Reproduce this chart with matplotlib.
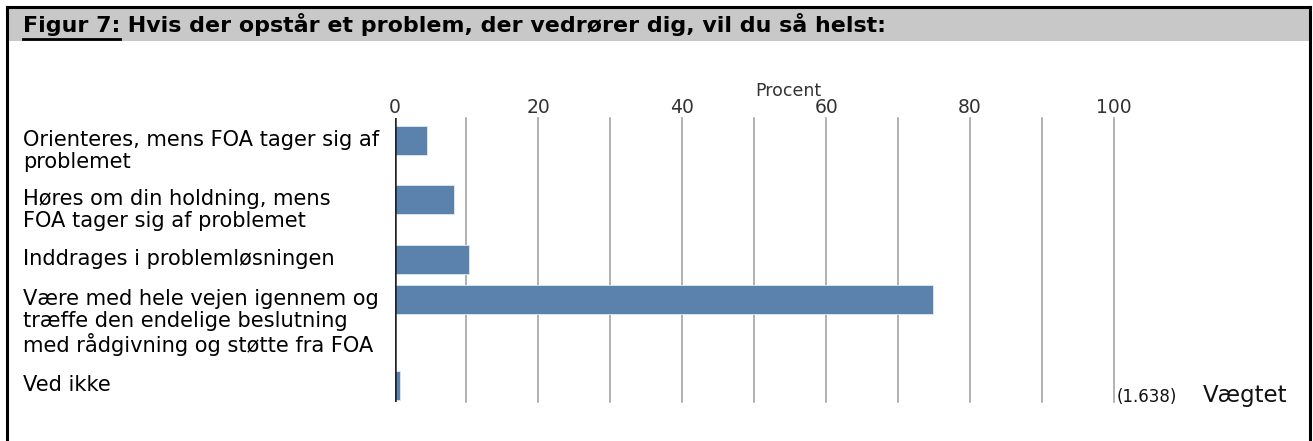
import matplotlib.pyplot as plt
from matplotlib.lines import Line2D
from matplotlib.patches import Rectangle

# data
categories = [
    "Orienteres, mens FOA tager sig af\nproblemet",
    "Høres om din holdning, mens\nFOA tager sig af problemet",
    "Inddrages i problemløsningen",
    "Være med hele vejen igennem og\ntræffe den endelige beslutning\nmed rådgivning og støtte fra FOA",
    "Ved ikke",
]
values = [4.5, 8.3, 10.3, 74.8, 0.8]
ticks = [0, 20, 40, 60, 80, 100]
title_lead = "Figur 7:"
title_rest = " Hvis der opstår et problem, der vedrører dig, vil du så helst:"
note_n = "(1.638)"
note_w = "Vægtet"

# layout (pixel rows of the bar centres in the original page)
slot_y = [141, 200, 260, 300, 386]
bar_h = 29

W, H = 1313, 441
fig = plt.figure(figsize=(W / 100, H / 100), dpi=100)

def fx(px):
    return px / W

def fy(py):
    return 1 - py / H

# frame and grey title band
fig.patches.append(Rectangle((fx(7), fy(41)), fx(1310) - fx(7), fy(8) - fy(41),
                             transform=fig.transFigure, facecolor="#c8c8c8", edgecolor="none"))
for xs, ys in [([7, 1310], [7, 7]), ([7, 7], [7, 441]), ([1310, 1310], [7, 441])]:
    fig.add_artist(Line2D([fx(x) for x in xs], [fy(y) for y in ys], color="black", lw=2.2,
                          transform=fig.transFigure))

t1 = fig.text(fx(23), fy(32), title_lead, fontsize=15.9, fontweight="bold",
              family="DejaVu Sans", va="baseline")
fig.canvas.draw()
bb = t1.get_window_extent()
fig.add_artist(Line2D([fx(23), fx(bb.x1)], [fy(38.5), fy(38.5)], color="black", lw=2,
                      transform=fig.transFigure))
fig.text(bb.x1 / W, fy(32), title_rest, fontsize=15.9, fontweight="bold",
         family="DejaVu Sans", va="baseline")

# chart
ax = fig.add_axes([fx(394.5), fy(402), fx(1114) - fx(394.5), fy(118) - fy(402)])
ax.barh(slot_y, values, height=bar_h, color="#5b82ac", edgecolor="#dbe9f2", lw=0.6, zorder=3)
ax.set_xlim(0, 100)
ax.set_ylim(402, 118)
for g in range(10, 101, 10):
    ax.axvline(g, color="#a6a6a6", lw=1.2, zorder=1, clip_on=False)
ax.axvline(0, color="#222222", lw=1.8, zorder=4)
for s in ax.spines.values():
    s.set_visible(False)
ax.set_yticks([])
ax.xaxis.tick_top()
ax.set_xticks(ticks)
ax.set_xticklabels([str(t) for t in ticks])
ax.tick_params(axis="x", length=0, pad=1, labelsize=13.5, labelcolor="#333333")
fig.text(fx(788), fy(91), "Procent", fontsize=12.5, color="#333333", ha="center", va="center")

for lab, y in zip(categories, slot_y):
    fig.text(fx(23), fy(y - 11), lab, fontsize=15.1, color="black", va="top", ha="left",
             linespacing=1.1)

fig.text(fx(1117), fy(402), note_n, fontsize=12, color="#111111", va="baseline")
fig.text(fx(1203), fy(402), note_w, fontsize=16.5, color="#111111", va="baseline")

fig.savefig("out.png", dpi=100)
